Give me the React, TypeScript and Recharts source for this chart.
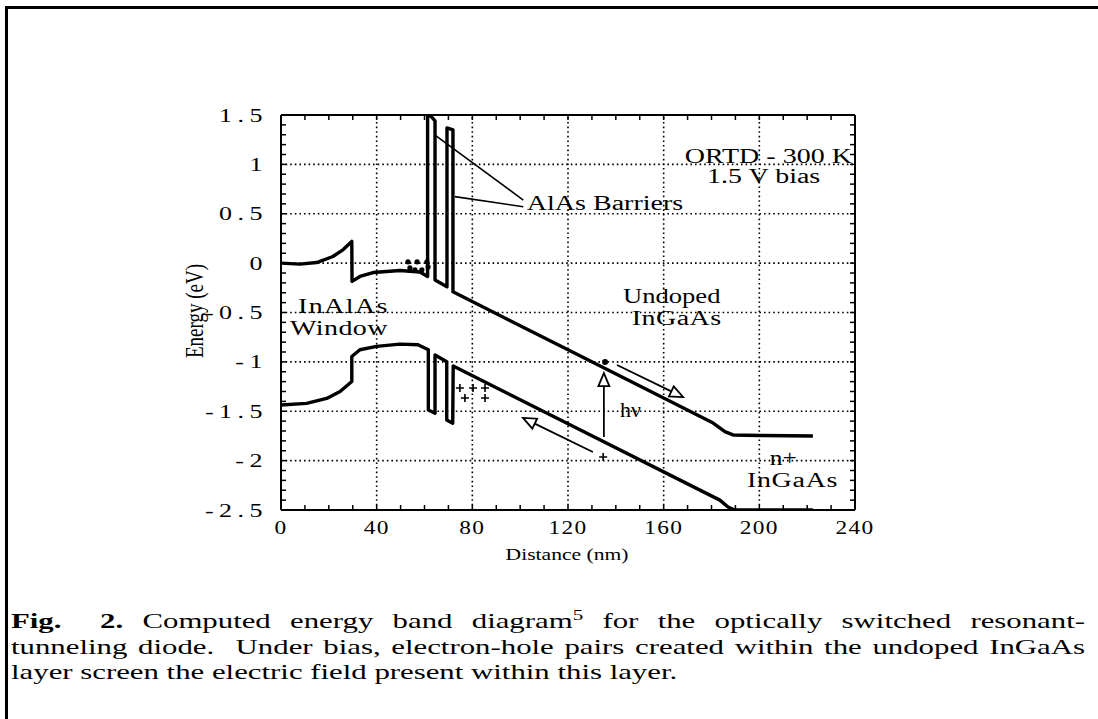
import React from 'react';
import { ComposedChart, Line, XAxis, YAxis, ReferenceLine, ReferenceDot, Scatter } from 'recharts';

// Conduction band edge (eV) vs distance (nm)
const conductionBand = [
  { x: 0, e: 0.0 }, { x: 7.9, e: -0.01 }, { x: 14.9, e: 0.006 }, { x: 21.7, e: 0.067 },
  { x: 25.9, e: 0.135 }, { x: 29.6, e: 0.22 }, { x: 29.7, e: -0.185 }, { x: 33.0, e: -0.135 },
  { x: 38.5, e: -0.095 }, { x: 49.7, e: -0.075 }, { x: 58.1, e: -0.09 }, { x: 61.3, e: -0.135 },
  { x: 61.3, e: 1.49 }, { x: 62.6, e: 1.49 }, { x: 64.4, e: 1.44 }, { x: 64.4, e: -0.17 },
  { x: 69.4, e: -0.24 }, { x: 69.4, e: 1.37 }, { x: 71.9, e: 1.35 }, { x: 71.9, e: -0.29 },
  { x: 120, e: -0.878 }, { x: 180.7, e: -1.62 }, { x: 185.6, e: -1.707 }, { x: 189, e: -1.74 },
  { x: 200.3, e: -1.745 }, { x: 222.4, e: -1.75 },
];

// Valence band edge (eV) vs distance (nm)
const valenceBand = [
  { x: 0, e: -1.437 }, { x: 10.7, e: -1.42 }, { x: 19.1, e: -1.37 }, { x: 24.7, e: -1.3 },
  { x: 29.6, e: -1.198 }, { x: 29.6, e: -0.945 }, { x: 33.0, e: -0.877 }, { x: 40, e: -0.843 },
  { x: 49.7, e: -0.82 }, { x: 57.3, e: -0.827 }, { x: 61.6, e: -0.877 }, { x: 61.6, e: -1.487 },
  { x: 64.4, e: -1.52 }, { x: 64.4, e: -0.93 }, { x: 69.3, e: -0.998 }, { x: 69.3, e: -1.589 },
  { x: 71.8, e: -1.622 }, { x: 72.0, e: -1.042 }, { x: 120, e: -1.627 }, { x: 183.5, e: -2.4 },
  { x: 186.9, e: -2.47 }, { x: 189.8, e: -2.5 }, { x: 222.4, e: -2.5 },
];

const electronsNearBarrier = [
  { x: 53.1, e: 0.013 }, { x: 56.9, e: 0.013 }, { x: 61.0, e: 0.013 },
  { x: 53.9, e: -0.048 }, { x: 56.0, e: -0.068 }, { x: 58.9, e: -0.068 }, { x: 61.5, e: -0.038 },
];
const holesNearBarrier = [
  { x: 74.8, e: -1.265 }, { x: 80.3, e: -1.265 }, { x: 85.3, e: -1.265 },
  { x: 76.9, e: -1.366 }, { x: 85.3, e: -1.366 },
];
const photoElectron = [{ x: 135.5, e: -1.0 }];
const photoHole = [{ x: 134.7, e: -1.963 }];

const barrierLeaders = [
  { x1: 64.4, e1: 1.297, x2: 101.3, e2: 0.639 },
  { x1: 72.7, e1: 0.673, x2: 101.3, e2: 0.571 },
];
const carrierArrows = [
  { x1: 135, e1: -1.761, x2: 135, e2: -1.113 },
  { x1: 140.5, e1: -1.032, x2: 168.1, e2: -1.356 },
  { x1: 130.4, e1: -1.913, x2: 101.2, e2: -1.568 },
];

const xMajorTicks = [0, 40, 80, 120, 160, 200, 240];
const yMajorTicks = [-2.5, -2, -1.5, -1, -0.5, 0, 0.5, 1, 1.5];
const xGridValues = [40, 80, 120, 160, 200];
const yGridValues = [-2, -1.5, -1, -0.5, 0, 0.5, 1];
const xMinorTicks = [0, 10, 20, 30, 40, 50, 60, 70, 80, 90, 100, 110, 120, 130, 140, 150, 160, 170, 180, 190, 200, 210, 220, 230, 240];
const yMinorTicks = Array.from({ length: 41 }, (_, i) => Math.round(-25 + i) / 10);

const SERIF = '"Liberation Serif", "Times New Roman", serif';

const isMajorX = (v: number) => xMajorTicks.includes(v);
const isMajorY = (v: number) => yMajorTicks.some((t) => Math.abs(t - v) < 1e-6);

const BottomTick = (p: any) => {
  const v = p.payload.value;
  return (
    <g>
      <line x1={p.x} y1={p.y} x2={p.x} y2={p.y - 5} stroke="#000" strokeWidth={1.5} />
      {isMajorX(v) && (
        <text transform={`translate(${p.x},${p.y + 24}) scale(1.3,1)`} textAnchor="middle"
          fontFamily={SERIF} fontSize={18} letterSpacing={1} fill="#000">{String(v)}</text>
      )}
    </g>
  );
};
const TopTick = (p: any) => (
  <line x1={p.x} y1={p.y} x2={p.x} y2={p.y + 5} stroke="#000" strokeWidth={1.5} />
);
const LeftTick = (p: any) => {
  const v = p.payload.value;
  return (
    <g>
      <line x1={p.x} y1={p.y} x2={p.x + 5} y2={p.y} stroke="#000" strokeWidth={1.5} />
      {isMajorY(v) && (
        <text transform={`translate(${p.x - 13},${p.y + 6.5}) scale(1.37,1)`} textAnchor="end"
          fontFamily={SERIF} fontSize={19} letterSpacing={4} fill="#000">{String(v)}</text>
      )}
    </g>
  );
};
const RightTick = (p: any) => (
  <line x1={p.x} y1={p.y} x2={p.x - 5} y2={p.y} stroke="#000" strokeWidth={1.5} />
);

const arrowShape = (p: any) => {
  const x1 = Number(p.x1), y1 = Number(p.y1), x2 = Number(p.x2), y2 = Number(p.y2);
  const dx = x2 - x1, dy = y2 - y1;
  const len = Math.hypot(dx, dy) || 1;
  const ux = dx / len, uy = dy / len;
  const hl = 13, hw = 5.5;
  const bx = x2 - ux * hl, by = y2 - uy * hl;
  const nx = -uy, ny = ux;
  return (
    <g>
      <line x1={x1} y1={y1} x2={bx} y2={by} stroke="#000" strokeWidth={1.8} />
      <polygon points={`${x2},${y2} ${bx + nx * hw},${by + ny * hw} ${bx - nx * hw},${by - ny * hw}`}
        fill="#fff" stroke="#000" strokeWidth={1.8} strokeLinejoin="miter" />
    </g>
  );
};

const textShape = (text: string, anchor: string = 'start', size: number = 20, sx: number = 1.4, ls: number = 0) =>
  (p: any) => (
    <text transform={`translate(${p.cx},${p.cy}) scale(${sx},1)`} textAnchor={anchor}
      fontFamily={SERIF} fontSize={size} letterSpacing={ls} fill="#000">{text}</text>
  );

const electronShape = (p: any) => <circle cx={p.cx} cy={p.cy} r={2.6} fill="#000" />;
const holeShape = (p: any) => (
  <path d={`M${p.cx - 4},${p.cy}H${p.cx + 4}M${p.cx},${p.cy - 4}V${p.cy + 4}`} stroke="#000" strokeWidth={1.6} />
);

const labelItems: { t: string; x: number; e: number; anchor?: string; ls?: number; sx?: number }[] = [
  { t: 'AlAs Barriers', x: 102.8, e: 0.538 },
  { t: 'ORTD - 300 K', x: 238.7, e: 1.014, anchor: 'end' },
  { t: '1.5 V bias', x: 178.1, e: 0.811 },
  { t: 'Undoped', x: 143, e: -0.404, sx: 1.33 },
  { t: 'InGaAs', x: 146.7, e: -0.627, ls: 0.3 },
  { t: 'InAlAs', x: 7.1, e: -0.505, ls: 1 },
  { t: 'Window', x: 3.8, e: -0.728, ls: 0.3 },
  { t: 'n+', x: 204.4, e: -2.044, sx: 1.27 },
  { t: 'InGaAs', x: 194.8, e: -2.267, ls: 0.5 },
  { t: 'hν', x: 141.7, e: -1.558, sx: 1.1 },
];

export default function App() {
  return (
    <div style={{ position: 'absolute', left: 0, top: 0, width: 1098, height: 719, background: '#fff' }}>
      <div style={{ position: 'absolute', left: 5, top: 6, width: 1093, height: 3, background: '#000' }} />
      <div style={{ position: 'absolute', left: 5, top: 6, width: 3, height: 713, background: '#000' }} />
      <div style={{ position: 'absolute', left: 0, top: 0 }}>
        <ComposedChart width={1098} height={719} margin={{ top: 110, right: 238, bottom: 169, left: 221 }}>
          <XAxis xAxisId={0} dataKey="x" type="number" domain={[0, 240]} allowDataOverflow ticks={xMinorTicks}
            interval={0} tickSize={0} tickMargin={0} height={40} tick={BottomTick}
            axisLine={{ stroke: '#000', strokeWidth: 2 }} tickLine={false} />
          <XAxis xAxisId="top" orientation="top" dataKey="x" type="number" domain={[0, 240]} allowDataOverflow
            ticks={xMinorTicks} interval={0} tickSize={0} tickMargin={0} height={5} tick={TopTick}
            axisLine={{ stroke: '#000', strokeWidth: 2 }} tickLine={false} />
          <YAxis yAxisId={0} dataKey="e" type="number" domain={[-2.5, 1.5]} allowDataOverflow ticks={yMinorTicks}
            interval={0} tickSize={0} tickMargin={0} width={60} tick={LeftTick}
            axisLine={{ stroke: '#000', strokeWidth: 2 }} tickLine={false} />
          <YAxis yAxisId="right" orientation="right" dataKey="e" type="number" domain={[-2.5, 1.5]} allowDataOverflow
            ticks={yMinorTicks} interval={0} tickSize={0} tickMargin={0} width={5} tick={RightTick}
            axisLine={{ stroke: '#000', strokeWidth: 2 }} tickLine={false} />

          {xGridValues.map((v) => (
            <ReferenceLine key={'gx' + v} x={v} stroke="#000" strokeWidth={1.6} strokeDasharray="1.6 3" />
          ))}
          {yGridValues.map((v) => (
            <ReferenceLine key={'gy' + v} y={v} stroke="#000" strokeWidth={1.6} strokeDasharray="1.6 3" />
          ))}

          <Line data={conductionBand} dataKey="e" type="linear" stroke="#000" strokeWidth={3.4}
            strokeLinejoin="round" dot={false} activeDot={false} isAnimationActive={false} />
          <Line data={valenceBand} dataKey="e" type="linear" stroke="#000" strokeWidth={3.4}
            strokeLinejoin="round" dot={false} activeDot={false} isAnimationActive={false} />

          <Scatter data={electronsNearBarrier} dataKey="e" shape={electronShape} isAnimationActive={false} />
          <Scatter data={photoElectron} dataKey="e" shape={(p: any) => <circle cx={p.cx} cy={p.cy} r={3} fill="#000" />} isAnimationActive={false} />
          <Scatter data={holesNearBarrier} dataKey="e" shape={holeShape} isAnimationActive={false} />
          <Scatter data={photoHole} dataKey="e" shape={holeShape} isAnimationActive={false} />

          {barrierLeaders.map((s, i) => (
            <ReferenceLine key={'bl' + i} segment={[{ x: s.x1, y: s.e1 }, { x: s.x2, y: s.e2 }]}
              stroke="#000" strokeWidth={1.6} ifOverflow="visible" />
          ))}
          {carrierArrows.map((s, i) => (
            <ReferenceLine key={'ar' + i} segment={[{ x: s.x1, y: s.e1 }, { x: s.x2, y: s.e2 }]}
              stroke="#000" strokeWidth={1.8} ifOverflow="visible" shape={arrowShape} />
          ))}

          {labelItems.map((l, i) => (
            <ReferenceDot key={'lb' + i} x={l.x} y={l.e} r={0} ifOverflow="visible"
              shape={textShape(l.t, l.anchor || 'start', 20, l.sx || 1.4, l.ls || 0)} />
          ))}
        </ComposedChart>
      </div>

      <div style={{ position: 'absolute', left: 0, top: 0, width: 1098, height: 719, pointerEvents: 'none' }}>
        <svg width={1098} height={719} style={{ position: 'absolute', left: 0, top: 0 }}>
          <text transform="translate(203,311) rotate(-90) scale(1,1.3)" textAnchor="middle"
            fontFamily={SERIF} fontSize={19} fill="#000">Energy (eV)</text>
          <text transform="translate(567,560) scale(1.27,1)" textAnchor="middle"
            fontFamily={SERIF} fontSize={17} fill="#000">Distance (nm)</text>
        </svg>
      </div>

      <div style={{ position: 'absolute', left: 11, top: 608, width: 1074 / 1.4, transform: 'scaleX(1.4)', transformOrigin: 'left top',
        fontFamily: SERIF, fontSize: 22, lineHeight: '25.5px', color: '#000' }}>
        <div style={{ textAlign: 'justify', textAlignLast: 'justify', whiteSpace: 'nowrap' }}>
          <b>Fig.&nbsp; 2.</b> Computed energy band diagram<sup style={{ fontSize: 15, lineHeight: 0 }}>5</sup> for the optically switched resonant-
        </div>
        <div style={{ textAlign: 'justify', textAlignLast: 'justify', whiteSpace: 'nowrap' }}>
          tunneling diode.&nbsp; Under bias, electron-hole pairs created within the undoped InGaAs
        </div>
        <div style={{ textAlign: 'left', whiteSpace: 'nowrap' }}>
          layer screen the electric field present within this layer.
        </div>
      </div>
    </div>
  );
}
